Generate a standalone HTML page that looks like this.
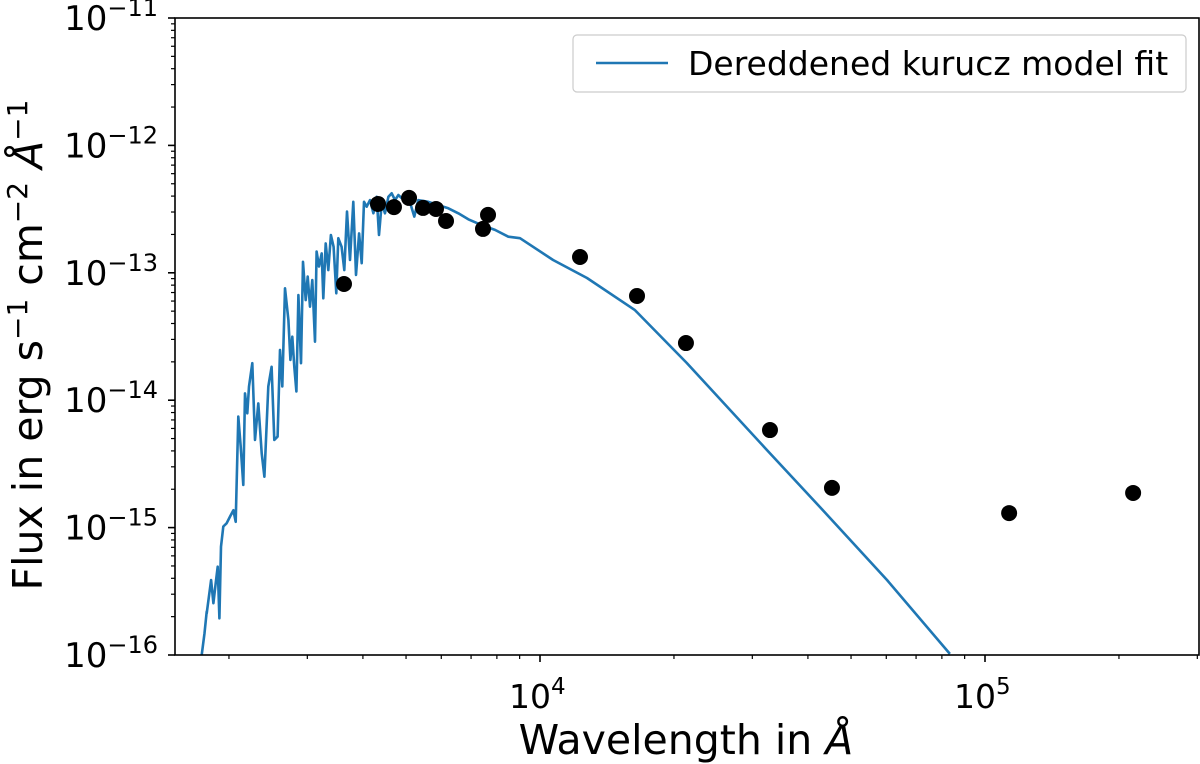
<!DOCTYPE html>
<html><head><meta charset="utf-8"><style>
html,body{margin:0;padding:0;background:#fff;}
svg{display:block;font-family:"DejaVu Sans","Liberation Sans",sans-serif;}
</style></head><body>
<svg id="chart" width="1200" height="764" viewBox="0 0 1200 764">
<g id="marks"></g>
<g id="axes"></g>
</svg>
<script>
const waves=[1737,1762,1782,1782,1823,1845,1867,1887,1903,1919,1942,1976,2011,2046,2071,2099,2125,2154,2173,2199,2219,2257,2289,2328,2369,2402,2452,2494,2529,2573,2604,2636,2673,2720,2748,2776,2805,2835,2864,2904,2934,2975,3006,3042,3079,3121,3148,3187,3231,3259,3299,3344,3390,3437,3485,3521,3583,3633,3683,3741,3806,3859,3921,3975,4023,4079,4150,4222,4296,4348,4409,4484,4563,4642,4723,4806,4890,5059,5219,5328,5610,5908,6223,6554,6902,7393,7922,8489,9016,10700,12750,16320,21370,32360,42560,60230,83380];
const fluxes=[1.0e-16,1.48e-16,2.19e-16,2.12e-16,3.88e-16,2.55e-16,3.66e-16,4.93e-16,1.94e-16,7.08e-16,1.02e-15,1.08e-15,1.22e-15,1.37e-15,1.11e-15,7.43e-15,4.32e-15,2.16e-15,1.13e-14,7.89e-15,1.28e-14,1.95e-14,4.88e-15,9.44e-15,3.83e-15,2.51e-15,1.28e-14,1.83e-14,4.88e-15,5.18e-15,2.48e-14,1.28e-14,7.55e-14,4.26e-14,2.07e-14,3.15e-14,1.83e-14,1.17e-14,6.70e-14,1.95e-14,1.22e-13,6.11e-14,9.33e-14,5.42e-14,8.78e-14,2.88e-14,1.47e-13,1.12e-13,1.42e-13,6.31e-14,1.70e-13,1.05e-13,1.98e-13,1.60e-13,6.90e-14,1.87e-13,1.60e-13,1.05e-13,3.02e-13,1.26e-13,3.61e-13,9.62e-14,2.04e-13,1.19e-13,3.61e-13,3.30e-13,3.72e-13,2.93e-13,3.95e-13,1.98e-13,3.51e-13,2.93e-13,3.95e-13,4.21e-13,3.72e-13,4.08e-13,3.85e-13,3.95e-13,2.76e-13,3.72e-13,3.61e-13,3.40e-13,3.21e-13,2.93e-13,2.63e-13,2.37e-13,2.17e-13,1.92e-13,1.87e-13,1.26e-13,9.10e-14,5.11e-14,1.96e-14,4.06e-15,1.45e-15,3.88e-16,1.02e-16];
const obsWaves=[3627,4325,4697,5078,5460,5838,6149,7446,7642,12300,16520,21280,32870,45300,113300,215200];
const obsFlux=[8.17e-14,3.47e-13,3.28e-13,3.87e-13,3.23e-13,3.17e-13,2.55e-13,2.21e-13,2.85e-13,1.33e-13,6.58e-14,2.81e-14,5.83e-15,2.05e-15,1.30e-15,1.87e-15];
const xMajor=[4,5];
const yMajor=[-16,-15,-14,-13,-12,-11];
const NS='http://www.w3.org/2000/svg';
const L=175,R=1199,T=18,B=655;
function xs(v){return 540+(Math.log10(v)-4)*445;}
function ys(v){return T+(-11-Math.log10(v))*127.4;}
function mk(tag,attrs,parent){const e=document.createElementNS(NS,tag);for(const k in attrs)e.setAttribute(k,attrs[k]);parent.appendChild(e);return e;}
const marks=document.getElementById('marks');
const axes=document.getElementById('axes');
const cp=mk('clipPath',{id:'cp'},marks);
mk('rect',{x:L,y:T,width:R-L,height:B-T},cp);
let d='';
waves.forEach((w,i)=>{d+=(i?'L':'M')+xs(w).toFixed(1)+','+ys(fluxes[i]).toFixed(1);});
const line=mk('path',{d:d,fill:'none',stroke:'#1f77b4','stroke-width':2.6,'stroke-linejoin':'round','clip-path':'url(#cp)'},marks);


obsWaves.forEach((w,i)=>{
 const c=mk('circle',{cx:xs(w),cy:ys(obsFlux[i]),r:8,fill:'#000'},marks);
 
 
});
const fr=mk('rect',{x:L,y:T,width:R-L,height:B-T,fill:'none',stroke:'#000','stroke-width':1.6},axes);


for(let e=3;e<=5;e++){for(let m=1;m<=9;m++){const v=m*Math.pow(10,e);const x=xs(v);if(x<L||x>R)continue;
 const major=(m===1);mk('line',{x1:x,x2:x,y1:B,y2:B+(major?7:4),stroke:'#000','stroke-width':major?1.6:1.2},axes);}}
xMajor.forEach(e=>{const t=mk('text',{x:xs(Math.pow(10,e))-31,y:708,'font-size':33,'text-anchor':'start'},axes);
 
 
 t.innerHTML='10<tspan dy="-14" font-size="23">'+e+'</tspan>';});
for(let e=-16;e<=-12;e++){for(let m=1;m<=9;m++){const v=m*Math.pow(10,e);const y=ys(v);
 const major=(m===1);mk('line',{x1:L,x2:L-(major?7:4),y1:y,y2:y,stroke:'#000','stroke-width':major?1.6:1.2},axes);}}
mk('line',{x1:L,x2:L-7,y1:ys(1e-11),y2:ys(1e-11),stroke:'#000','stroke-width':1.6},axes);
yMajor.forEach(e=>{const t=mk('text',{x:158,y:ys(Math.pow(10,e))+12,'font-size':34,'text-anchor':'end'},axes);
 
 
 t.innerHTML='10<tspan dy="-14" font-size="24">\u2212'+(-e)+'</tspan>';});
</script>
<svg style="position:absolute;left:0;top:0" width="1200" height="764">
<text x="686" y="754" font-size="41" text-anchor="middle" font-family="DejaVu Sans, sans-serif">Wavelength in <tspan font-style="italic">Å</tspan></text>
<text transform="translate(42,345) rotate(-90)" font-size="41" text-anchor="middle" font-family="DejaVu Sans, sans-serif">Flux in erg s<tspan dy="-15" font-size="28">−1</tspan><tspan dy="15"> cm</tspan><tspan dy="-15" font-size="28">−2</tspan><tspan dy="15"> </tspan><tspan font-style="italic">Å</tspan><tspan dy="-15" font-size="28">−1</tspan></text>
<g>
<rect x="573" y="35" width="613" height="57" rx="4" fill="#fff" stroke="#ccc" stroke-width="1.2"/>
<line x1="596" x2="668" y1="63" y2="63" stroke="#1f77b4" stroke-width="2.4"/>
<text x="688" y="75" font-size="33" font-family="DejaVu Sans, sans-serif">Dereddened kurucz model fit</text>
</g>
</svg>
</body></html>
